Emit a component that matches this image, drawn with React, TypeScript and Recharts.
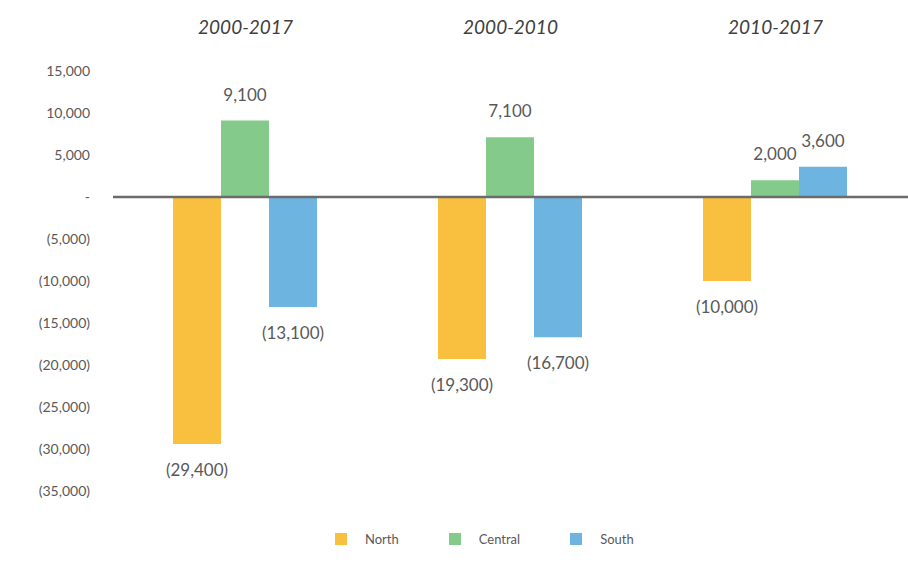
import React from 'react';
import { BarChart, Bar, XAxis, YAxis, ReferenceLine, LabelList, Legend } from 'recharts';

const periods = ['2000-2017', '2000-2010', '2010-2017'];
const north = [-29400, -19300, -10000];
const central = [9100, 7100, 2000];
const south = [-13100, -16700, 3600];
const yTicks = [15000, 10000, 5000, 0, -5000, -10000, -15000, -20000, -25000, -30000, -35000];

const seriesInfo = [
  { key: 'North', color: '#F9C03F' },
  { key: 'Central', color: '#84CA8B' },
  { key: 'South', color: '#6DB5E0' },
];

const data = periods.map((p, i) => ({
  period: p,
  North: north[i],
  Central: central[i],
  South: south[i],
}));

const FONT = 'Lato, "Open Sans", sans-serif';

const fmt = (v: number) => {
  if (v === 0) return '-';
  const s = Math.abs(v).toLocaleString('en-US');
  return v < 0 ? `(${s})` : s;
};

const ValueLabel = (props: any) => {
  const { x, y, width, height, value } = props;
  const top = Math.min(y, y + height);
  const bottom = Math.max(y, y + height);
  const cx = x + width / 2;
  const ty = value < 0 ? bottom + 32 : top - 20;
  return (
    <text x={cx} y={ty} textAnchor="middle" fill="#595959" fontSize={17} fontFamily={FONT}>
      {fmt(value)}
    </text>
  );
};

const PeriodTick = (props: any) => {
  const { x, payload } = props;
  return (
    <text x={x} y={34} textAnchor="middle" fill="#404040" fontSize={19} fontStyle="italic" fontFamily={FONT}>
      {payload.value}
    </text>
  );
};

const LegendContent = () => (
  <div style={{ display: 'flex', alignItems: 'center', fontFamily: FONT, fontSize: 13, color: '#595959' }}>
    {seriesInfo.map((s) => (
      <div key={s.key} style={{ display: 'flex', alignItems: 'center', marginRight: 50 }}>
        <span style={{ width: 12, height: 12, background: s.color, display: 'inline-block', marginRight: 18 }} />
        <span>{s.key}</span>
      </div>
    ))}
  </div>
);

export default function App() {
  return (
    <div style={{ position: 'absolute', left: 0, top: 0, background: '#fff' }}>
      <BarChart
        width={908}
        height={580}
        data={data}
        margin={{ top: 11, right: 0, left: 0, bottom: 73 }}
        barCategoryGap={60}
        barGap={0}
      >
        <XAxis
          dataKey="period"
          orientation="top"
          height={60}
          axisLine={false}
          tickLine={false}
          tick={<PeriodTick />}
        />
        <YAxis
          type="number"
          domain={[-35000, 15000]}
          ticks={yTicks}
          interval={0}
          width={113}
          axisLine={false}
          tickLine={false}
          tickMargin={17}
          tickFormatter={fmt}
          tick={{ fill: '#595959', fontSize: 14, fontFamily: FONT }}
        />
        <ReferenceLine y={0} stroke="#6b6b6b" strokeWidth={2.5} />
        {seriesInfo.map((s) => (
          <Bar key={s.key} dataKey={s.key} fill={s.color} isAnimationActive={false}>
            <LabelList dataKey={s.key} content={<ValueLabel />} />
          </Bar>
        ))}
        <Legend content={<LegendContent />} wrapperStyle={{ left: 335, top: 531, width: 'auto' }} />
      </BarChart>
    </div>
  );
}
